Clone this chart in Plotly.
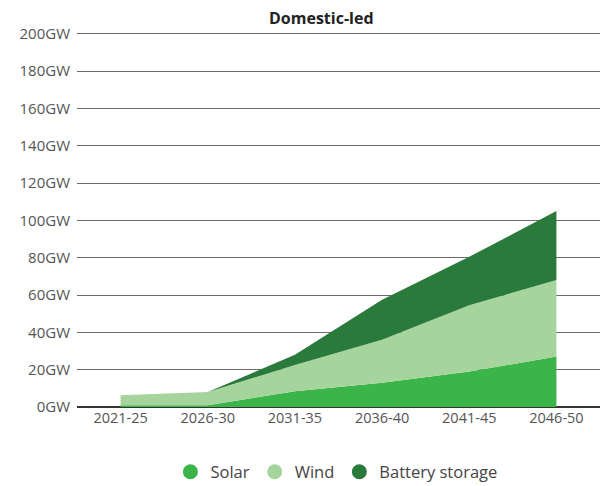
import plotly.graph_objects as go

periods = ["2021-25", "2026-30", "2031-35", "2036-40", "2041-45", "2046-50"]
solar = [1, 1, 8.5, 13, 19, 27]
wind = [5.3, 7, 14, 23, 35.5, 41]
battery = [0, 0, 5.5, 21.5, 26, 37]
y_ticks = [0, 20, 40, 60, 80, 100, 120, 140, 160, 180, 200]
y_labels = [f"{v}GW" for v in y_ticks]

series = [("Solar", solar, "#3bb54a"), ("Wind", wind, "#a6d49d"), ("Battery storage", battery, "#2a7a3c")]

fig = go.Figure()
for name, vals, col in series:
    fig.add_trace(go.Scatter(x=periods, y=vals, name=name, stackgroup="one", mode="none",
                             fillcolor=col, line=dict(width=0), showlegend=False, hoverinfo="x+y+name"))
for name, vals, col in series:
    fig.add_trace(go.Scatter(x=[None], y=[None], name=name, mode="markers",
                             marker=dict(color=col, size=15, symbol="circle"), showlegend=True))

T, B = 30, 79
H = 486 - T - B
fig.update_layout(
    width=600, height=486,
    margin=dict(l=77, r=0, t=T, b=B, autoexpand=False),
    paper_bgcolor="white", plot_bgcolor="white",
    font=dict(family="Open Sans, sans-serif", color="#555555", size=15),
    xaxis=dict(type="category", range=[-0.5, 5.5], showgrid=False, zeroline=False, automargin=False,
               showline=False, ticks="", tickfont=dict(size=14.5, color="#555555")),
    yaxis=dict(range=[0, 202], tickvals=y_ticks, ticktext=y_labels, showgrid=True, automargin=False,
               gridcolor="#6b6b6b", gridwidth=1, zeroline=True, zerolinecolor="#333333",
               zerolinewidth=1.5, showline=False, ticks="", ticklabelstandoff=6,
               tickfont=dict(size=15, color="#555555")),
    legend=dict(orientation="h", traceorder="normal", x=0.496, xref="paper", xanchor="center",
                y=-(472 - (486 - B)) / H, yanchor="middle",
                font=dict(size=16.5, color="#444444"), itemwidth=30),
    annotations=[dict(text="<b>Domestic-led</b>", x=(321 - 77) / 523, xref="paper",
                      y=1 + (T - 18) / H, yref="paper", xanchor="center", yanchor="middle",
                      showarrow=False, font=dict(size=16, color="#222222"))],
)
fig.write_html("out.html", config={"displayModeBar": False},
               post_script="document.body.style.margin='0';document.body.style.padding='0';")
